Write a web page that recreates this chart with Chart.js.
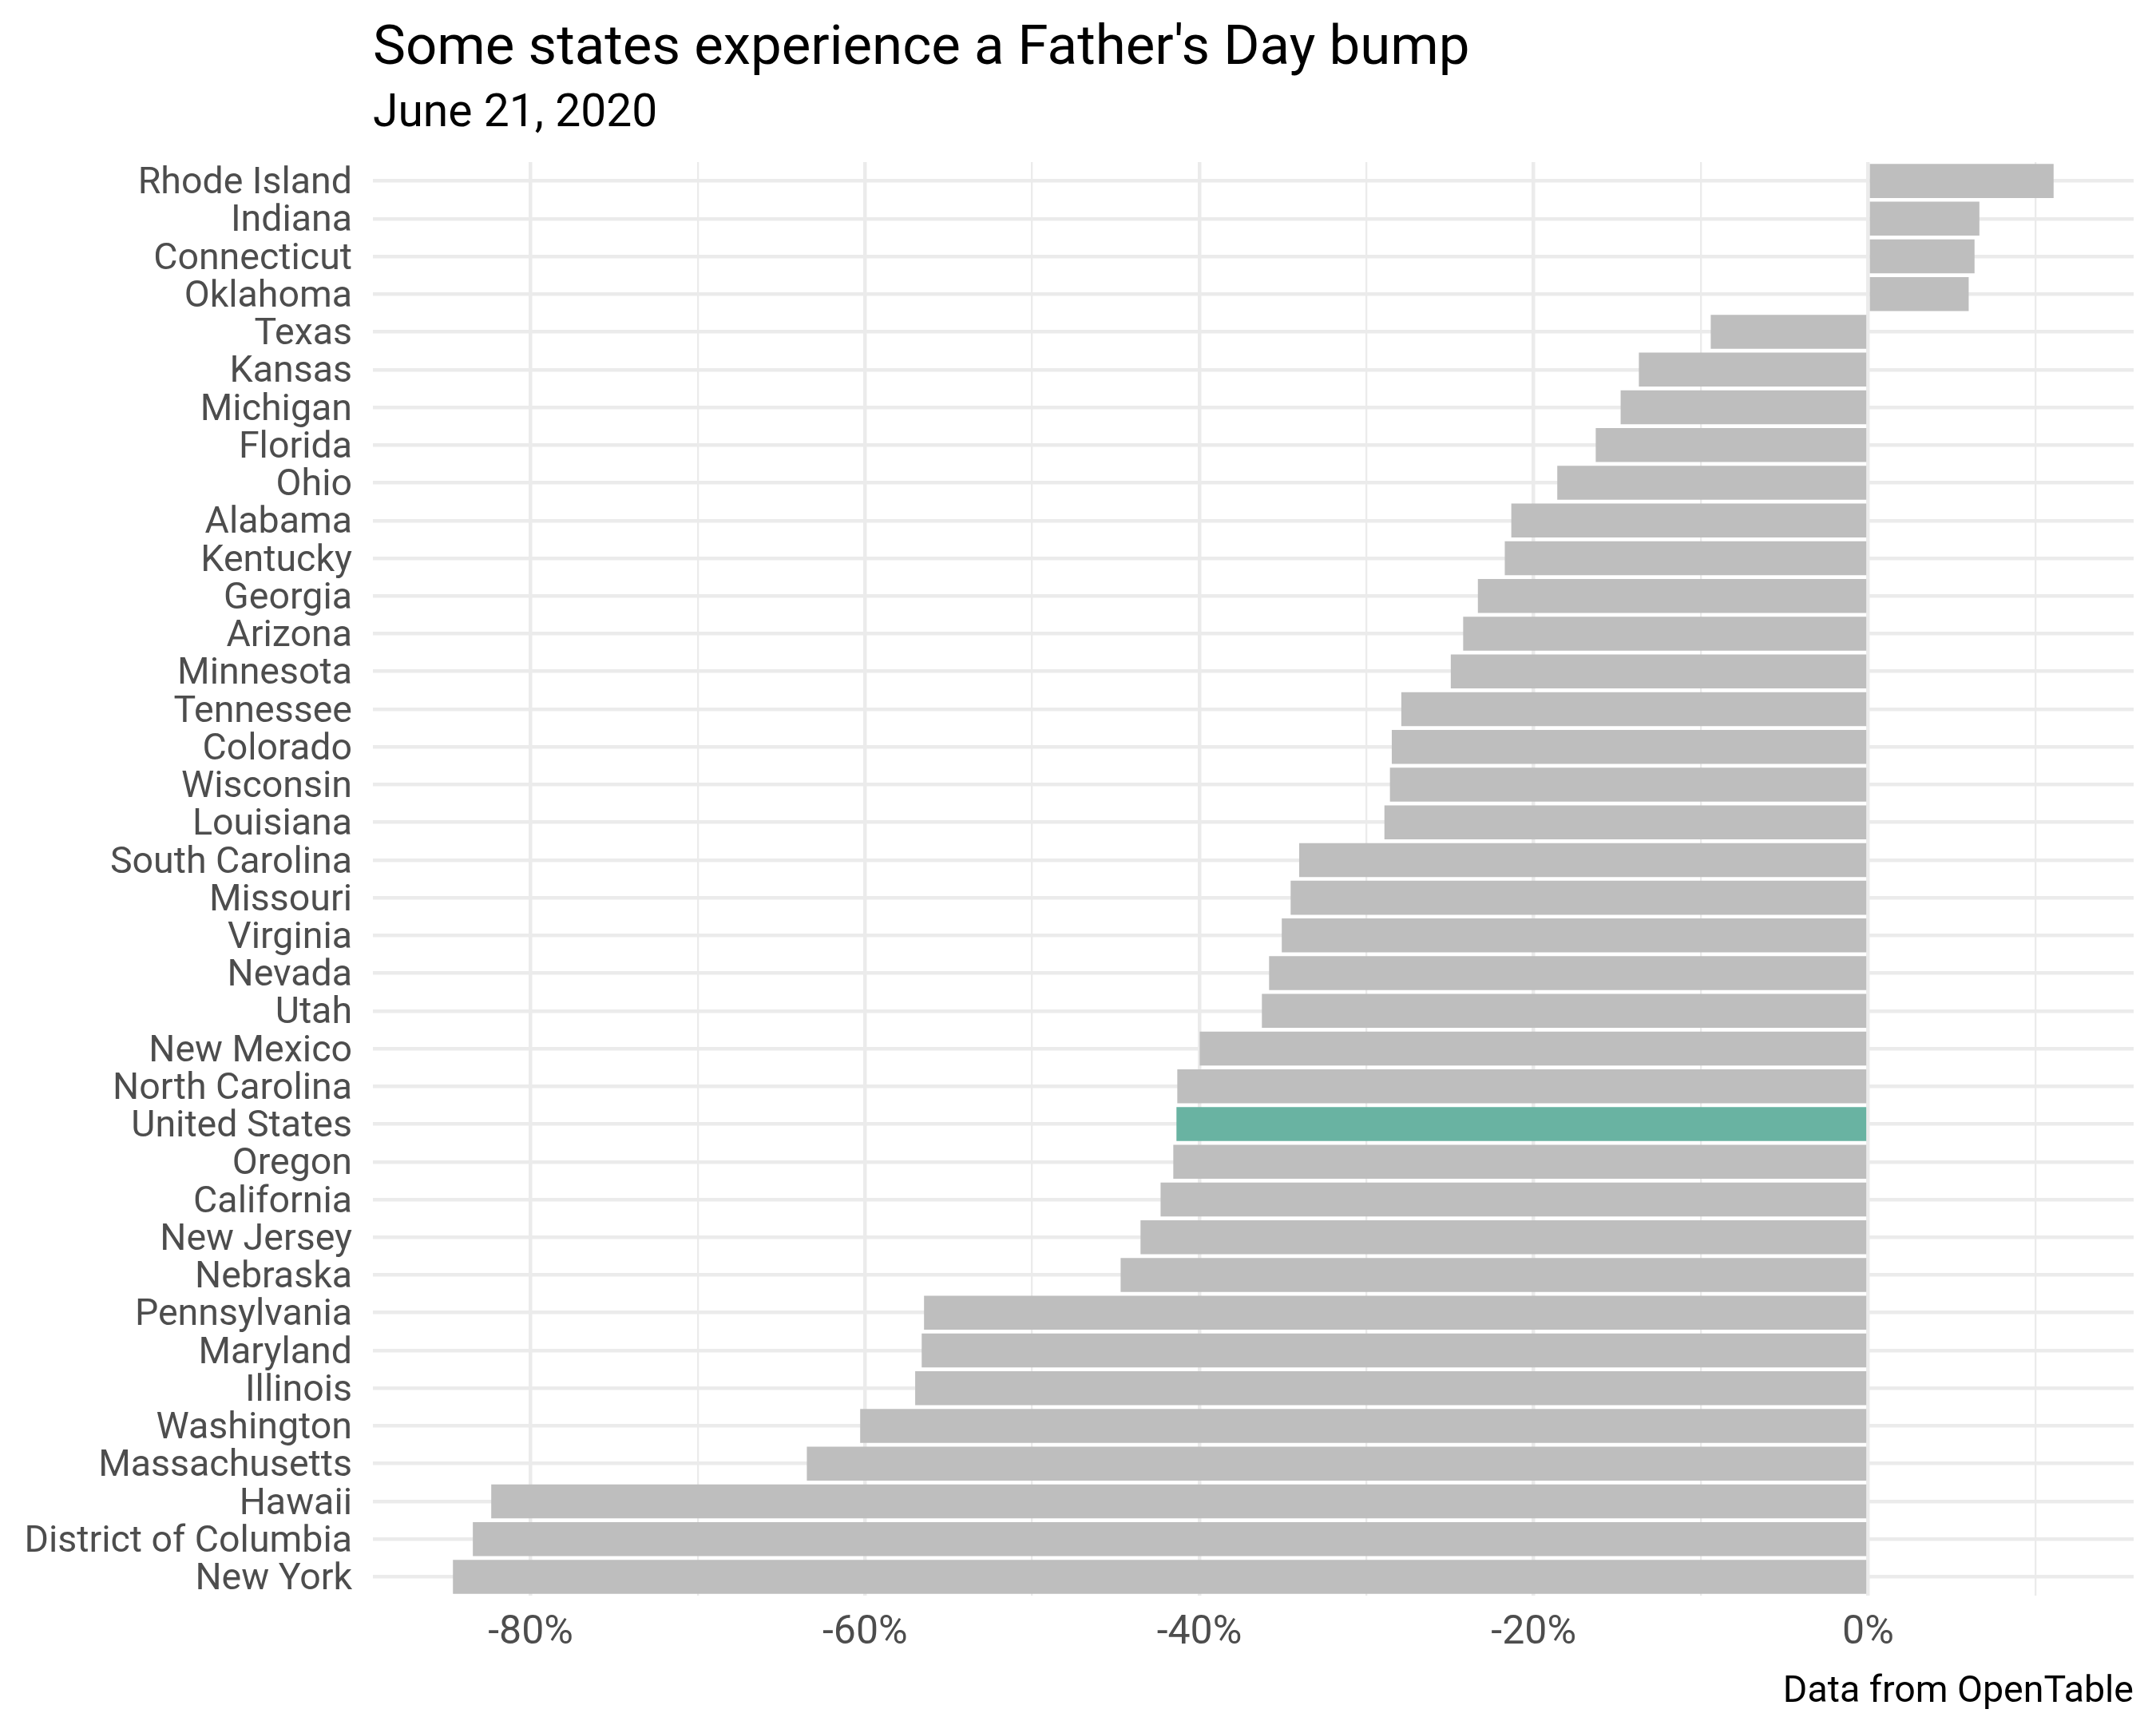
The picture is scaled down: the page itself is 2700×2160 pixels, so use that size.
<!DOCTYPE html>
<html>
<head>
<meta charset="utf-8">
<script src="https://cdn.jsdelivr.net/npm/chart.js@4"></script>
<style>
  html, body { margin: 0; padding: 0; background: #ffffff; }
  #wrap { width: 2700px; height: 2160px; }
</style>
</head>
<body>
<div id="wrap"><canvas id="bumpChart"></canvas></div>
<script>
// change in seated diners vs. last year, Father's Day (percent)
const states = ['Rhode Island', 'Indiana', 'Connecticut', 'Oklahoma', 'Texas', 'Kansas',
    'Michigan', 'Florida', 'Ohio', 'Alabama', 'Kentucky', 'Georgia', 'Arizona', 'Minnesota',
    'Tennessee', 'Colorado', 'Wisconsin', 'Louisiana', 'South Carolina', 'Missouri',
    'Virginia', 'Nevada', 'Utah', 'New Mexico', 'North Carolina', 'United States', 'Oregon',
    'California', 'New Jersey', 'Nebraska', 'Pennsylvania', 'Maryland', 'Illinois',
    'Washington', 'Massachusetts', 'Hawaii', 'District of Columbia', 'New York'];
const change = [11.1, 6.66, 6.37, 6.02, -9.41, -13.71,
    -14.8, -16.29, -18.59, -21.34, -21.73, -23.34, -24.22, -24.96,
    -27.92, -28.49, -28.6, -28.93, -34.03, -34.54,
    -35.07, -35.83, -36.26, -39.98, -41.32, -41.37, -41.56,
    -42.32, -43.52, -44.71, -56.47, -56.61, -57.0,
    -60.29, -63.48, -82.36, -83.46, -84.65];
const gridValues = [-80, -70, -60, -50, -40, -30, -20, -10, 0, 10];
const labelledValues = [-80, -60, -40, -20, 0];
const highlight = 'United States';

const title = "Some states experience a Father's Day bump";
const subtitle = 'June 21, 2020';
const caption = 'Data from OpenTable';

const FONT = 'Roboto, "Noto Sans", sans-serif';

// ggplot style 5% expansion of the value range
const lo = Math.min(0, ...change), hi = Math.max(0, ...change);
const pad = (hi - lo) * 0.05;

// title / subtitle / caption lined up with the panel, like ggplot does
const headings = {
    id: 'headings',
    afterDraw(chart) {
        const c = chart.ctx, a = chart.chartArea;
        c.save();
        c.fillStyle = '#000000';
        c.textBaseline = 'alphabetic';
        c.textAlign = 'left';
        c.font = '69px ' + FONT;
        c.fillText(title, a.left, 80);
        c.font = '57px ' + FONT;
        c.fillText(subtitle, a.left, 158);
        c.textAlign = 'right';
        c.font = '46.5px ' + FONT;
        c.fillText(caption, a.right, 2131);
        c.restore();
    }
};

const ctx = document.getElementById('bumpChart');

new Chart(ctx, {
    type: 'bar',
    data: {
        labels: states,
        datasets: [{
            data: change,
            backgroundColor: states.map(s => s === highlight ? '#69b3a2' : '#bebebe'),
            borderWidth: 0,
            barPercentage: 0.9,
            categoryPercentage: 1.0
        }]
    },
    options: {
        indexAxis: 'y',
        responsive: true,
        maintainAspectRatio: false,
        animation: false,
        layout: { padding: { top: 203, right: 28, bottom: 62, left: 0 } },
        plugins: {
            legend: { display: false },
            tooltip: { enabled: false }
        },
        scales: {
            x: {
                type: 'linear',
                min: lo - pad,
                max: hi + pad,
                afterBuildTicks: axis => { axis.ticks = gridValues.map(v => ({ value: v })); },
                afterFit: scale => { scale.height = 100; },
                border: { display: false },
                grid: {
                    drawTicks: false,
                    color: '#ebebeb',
                    lineWidth: c => labelledValues.includes(c.tick.value) ? 4.5 : 2.3
                },
                ticks: {
                    padding: 17,
                    color: '#4d4d4d',
                    font: { family: FONT, size: 50 },
                    callback: v => labelledValues.includes(v) ? v + '%' : ''
                }
            },
            y: {
                afterFit: scale => { scale.width = 467; },
                border: { display: false },
                grid: {
                    offset: false,
                    drawTicks: false,
                    color: '#ebebeb',
                    lineWidth: 4.5
                },
                ticks: {
                    padding: 26,
                    labelOffset: 4,
                    autoSkip: false,
                    color: '#4d4d4d',
                    font: { family: FONT, size: 46.5 }
                }
            }
        }
    },
    plugins: [headings]
});
</script>
</body>
</html>
